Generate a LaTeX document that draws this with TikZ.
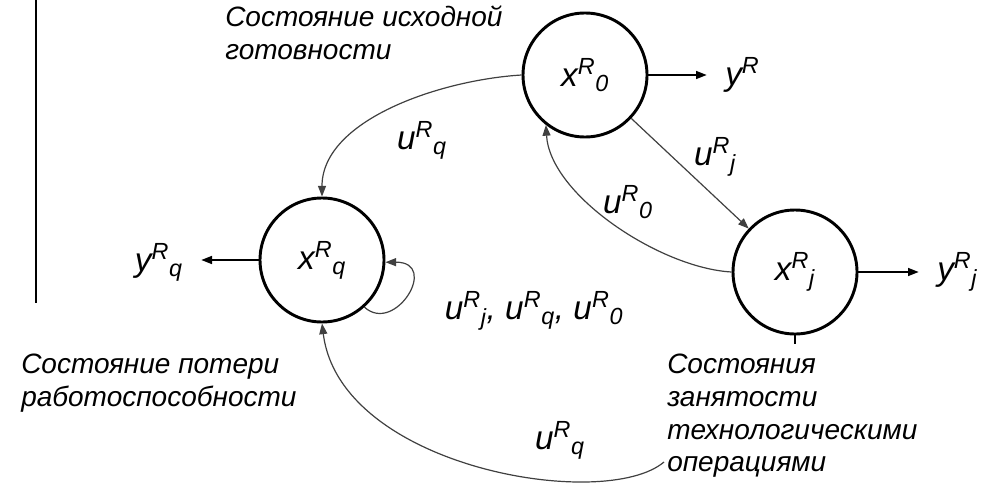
\documentclass[tikz,border=0pt]{standalone}
\usepackage{fontspec}
\setmainfont{Liberation Sans}
\usetikzlibrary{arrows.meta}
\newcommand{\st}[3]{#1\textsuperscript{#2}\textsubscript{#3}}

\begin{document}
\begin{tikzpicture}[x=0.75pt,y=0.75pt,yscale=-1,xscale=1,
  every node/.style={font=\itshape\fontsize{21}{24.5}\selectfont, inner sep=0.75pt},
  lbl/.style={font=\itshape\fontsize{25}{28}\selectfont},
  state/.style={draw, circle, lbl, line width=2.2pt, minimum size=93pt, inner sep=0pt},
  trans/.style={draw=black!75, line width=0.9pt, -{Triangle[length=8pt,width=6pt]}},
  outarr/.style={line width=1.1pt, shorten >=13pt, -{Triangle[length=8pt,width=6pt]}}]
\useasboundingbox (0,0) rectangle (987,485);

%Straight Lines: left margin
\draw [line width=1.5pt] (36,0) -- (36,303);

%Shape: Circle (states)
\node [state] (x0) at (585,75) {\st{x}{R}{0}};
\node [state] (xq) at (322,260) {\st{x}{R}{q}};
\node [state] (xj) at (795,272) {\st{x}{R}{j}};

% Text Node (outputs)
\node [lbl, anchor=west] (yR) at (724,75) {y\textsuperscript{R}};
\node [lbl, anchor=east] (yq) at (184,262) {\st{y}{R}{q}};
\node [lbl, anchor=west] (yj) at (936,272) {\st{y}{R}{j}};

\draw [outarr] (x0.east) -- (yR.west |- x0.east);
\draw [outarr] (xq.west) -- (yq.east |- xq.west);
\draw [outarr] (xj.east) -- (yj.west |- xj.east);

%Curve Lines (transitions)
\draw [trans] (x0.west) .. controls (440,80) and (322,120) .. (xq.north);
\draw [trans] (x0) -- (xj);
\draw [trans] (xj.west) .. controls (660,268) and (550,195) .. (x0.232);
\draw [trans] (xq.-48) .. controls (395,335) and (440,262) .. (xq.-2);
\coordinate (c) at (664,462);
\draw [trans] (c) .. controls (605,512) and (340,468) .. (xq.south);

%Straight Lines: tick under x_j
\coordinate (tk) at (795,344);
\draw [line width=0.8pt] (xj.south) -- (tk);

% Text Node (transition labels)
\node [lbl] (uq) at (422,140) {\st{u}{R}{q}};
\node [lbl] (uj) at (715,157) {\st{u}{R}{j}};
\node [lbl] (u0) at (628,202) {\st{u}{R}{0}};
\node [lbl] (uall) at (534,311) {\st{u}{R}{j}, \st{u}{R}{q}, \st{u}{R}{0}};
\node [lbl] (uqb) at (560,440) {\st{u}{R}{q}};

% Text Node (state names)
\node [anchor=north west, align=left] (t0) at (224,5) {Состояние исходной\\готовности};
\node [anchor=north west, align=left] (tq) at (20,353) {Состояние потери\\работоспособности};
\node [anchor=north west, align=left] (tj) at (666,353) {Состояния\\занятости\\технологическими\\операциями};
\end{tikzpicture}
\end{document}
